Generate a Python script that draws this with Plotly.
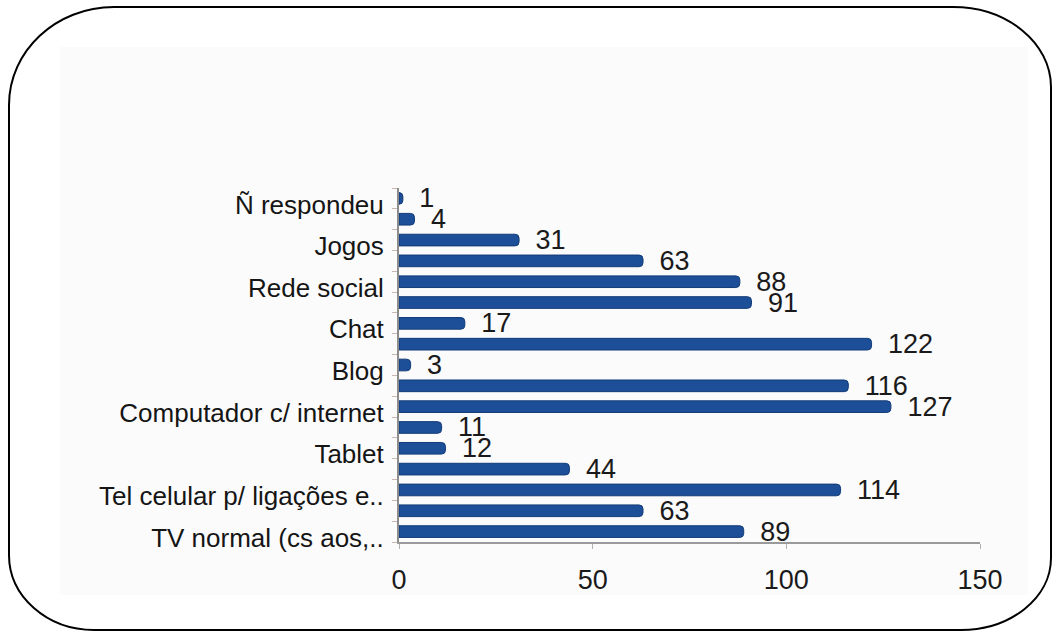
import plotly.graph_objects as go

# Survey answers, listed top to bottom as they appear on the chart
values = [1, 4, 31, 63, 88, 91, 17, 122, 3, 116, 127, 11, 12, 44, 114, 63, 89]
# Only every other row carries a category label
row_labels = [
    "Ñ respondeu", "", "Jogos", "", "Rede social", "", "Chat", "", "Blog", "",
    "Computador c/ internet", "", "Tablet", "", "Tel celular p/ ligações e..", "",
    "TV normal (cs aos,..",
]
x_ticks = [0, 50, 100, 150]

rows = list(range(len(values)))
tick_rows = [i for i, lab in enumerate(row_labels) if lab]
tick_text = [row_labels[i] for i in tick_rows]

# Plot-area geometry in pixels (used to place the decorative frame)
W, H = 1052, 632
L, R, T, B = 399, 980, 188, 542


def px(x):
    return (x - L) / (R - L)


def py(y):
    return (B - y) / (B - T)


def rounded_frame(x0, y0, x1, y1, tl, tr, br, bl):
    """SVG path (paper coords) for a rectangle with elliptical corners."""
    k = 0.5523
    p = []
    p.append(f"M {px(x0 + tl[0])},{py(y0)}")
    p.append(f"L {px(x1 - tr[0])},{py(y0)}")
    p.append(
        f"C {px(x1 - tr[0] + k * tr[0])},{py(y0)} {px(x1)},{py(y0 + tr[1] - k * tr[1])} "
        f"{px(x1)},{py(y0 + tr[1])}"
    )
    p.append(f"L {px(x1)},{py(y1 - br[1])}")
    p.append(
        f"C {px(x1)},{py(y1 - br[1] + k * br[1])} {px(x1 - br[0] + k * br[0])},{py(y1)} "
        f"{px(x1 - br[0])},{py(y1)}"
    )
    p.append(f"L {px(x0 + bl[0])},{py(y1)}")
    p.append(
        f"C {px(x0 + bl[0] - k * bl[0])},{py(y1)} {px(x0)},{py(y1 - bl[1] + k * bl[1])} "
        f"{px(x0)},{py(y1 - bl[1])}"
    )
    p.append(f"L {px(x0)},{py(y0 + tl[1])}")
    p.append(
        f"C {px(x0)},{py(y0 + tl[1] - k * tl[1])} {px(x0 + tl[0] - k * tl[0])},{py(y0)} "
        f"{px(x0 + tl[0])},{py(y0)} Z"
    )
    return " ".join(p)


FONT = "Liberation Sans, Arial, sans-serif"

fig = go.Figure(
    go.Bar(
        x=values,
        y=rows,
        orientation="h",
        width=0.56,
        marker=dict(color="#1D4F98", line=dict(color="#123B78", width=1)),
        text=values,
        texttemplate="\u2002%{text}",
        textposition="outside",
        constraintext="none",
        cliponaxis=False,
        textfont=dict(family=FONT, size=27, color="#1a1a1a"),
        hoverinfo="skip",
    )
)

fig.update_layout(
    width=W,
    height=H,
    autosize=False,
    margin=dict(l=L, r=W - R, t=T, b=H - B),
    paper_bgcolor="white",
    plot_bgcolor="rgba(0,0,0,0)",
    barcornerradius=4,
    showlegend=False,
    font=dict(family=FONT, color="#1a1a1a"),
    shapes=[
        # faint backdrop behind the chart
        dict(
            type="rect", xref="paper", yref="paper", layer="below",
            x0=px(60), x1=px(1028), y0=py(595), y1=py(47),
            fillcolor="#fbfbfb", line=dict(width=0),
        ),
        # rounded outer frame
        dict(
            type="path", xref="paper", yref="paper", layer="above",
            path=rounded_frame(9, 7, 1051, 630, (105, 98), (98, 80), (90, 72), (85, 75)),
            line=dict(color="black", width=2),
        ),
    ],
)

fig.update_xaxes(
    range=[0, 150],
    tickvals=x_ticks,
    ticktext=[str(v) for v in x_ticks],
    showgrid=False,
    zeroline=False,
    showline=True,
    linecolor="#9a9a9a",
    linewidth=1.5,
    ticks="outside",
    ticklen=5,
    tickcolor="#b0b0b0",
    ticklabelstandoff=8,
    tickfont=dict(family=FONT, size=27, color="#1a1a1a"),
    fixedrange=True,
)

fig.update_yaxes(
    range=[len(values) - 0.5, -0.5],
    tickvals=tick_rows,
    ticktext=tick_text,
    showgrid=False,
    zeroline=False,
    showline=True,
    linecolor="#8c8c8c",
    linewidth=2,
    ticks="",
    ticklabelstandoff=8,
    ticklabelshift=-6,
    tickfont=dict(family=FONT, size=26, color="#151515"),
    minor=dict(
        tick0=0.5, dtick=1, ticks="outside", ticklen=5, tickcolor="#c8b8b0",
        showgrid=False,
    ),
    fixedrange=True,
)

fig.write_html("out.html")
